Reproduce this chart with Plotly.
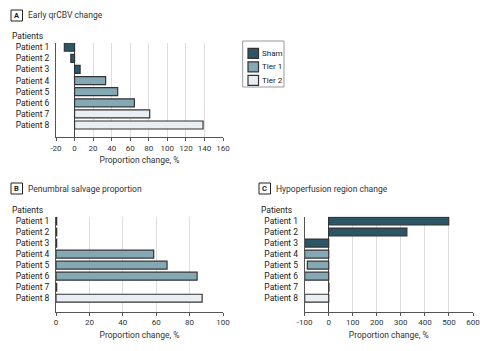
import plotly.graph_objects as go

patients = ["Patient 1", "Patient 2", "Patient 3", "Patient 4",
            "Patient 5", "Patient 6", "Patient 7", "Patient 8"]
groups = ["Sham", "Sham", "Sham", "Tier 1", "Tier 1", "Tier 1", "Tier 2", "Tier 2"]
qrcbv_change = [-11, -4, 6, 33.5, 46.5, 64.5, 81, 138.5]
penumbral_salvage = [0.4, 0.4, 0.4, 58.5, 66.5, 84.5, 0.4, 87.5]
hypoperfusion_change = [499, 325, -100, -100, -89, -100, 1, -100]

ticks_a = [-20, 0, 20, 40, 60, 80, 100, 120, 140, 160]
ticks_b = [0, 20, 40, 60, 80, 100]
ticks_c = [-100, 0, 100, 200, 300, 400, 500, 600]

group_names = ["Sham", "Tier 1", "Tier 2"]
colors = {"Sham": "#2c5665", "Tier 1": "#84a9b5", "Tier 2": "#e8eef1"}

FONT = "Roboto, Arial, sans-serif"
W, H = 492, 351

fig = go.Figure()

panels = [
    ("x", "y", qrcbv_change),
    ("x2", "y2", penumbral_salvage),
    ("x3", "y3", hypoperfusion_change),
]
for pi, (xa, ya, vals) in enumerate(panels):
    for g in group_names:
        ys = [p for p, gg in zip(patients, groups) if gg == g]
        xs = [v for v, gg in zip(vals, groups) if gg == g]
        fig.add_trace(go.Bar(
            x=xs, y=ys, orientation="h", name=g, xaxis=xa, yaxis=ya,
            marker=dict(color=colors[g], line=dict(color="#333333", width=1.2)),
            showlegend=False,
        ))


def tl(v):
    return str(v).replace("\u2212", "-")


axis_common = dict(
    showline=True, linecolor="#555555", linewidth=1,
    ticks="outside", ticklen=3, tickcolor="#555555", tickwidth=1,
    showgrid=True, gridcolor="#dddddd", gridwidth=1,
    tickfont=dict(family=FONT, size=8, color="#333333"),
    title_font=dict(family=FONT, size=8.5, color="#333333"),
    fixedrange=True, automargin=False, tickmode="array",
)
yaxis_common = dict(
    type="category", categoryorder="array", categoryarray=patients,
    tickmode="array", tickvals=patients, ticktext=patients,
    showline=True, linecolor="#555555", linewidth=1,
    ticks="", showgrid=False, zeroline=False, automargin=False,
    tickfont=dict(family=FONT, size=8.5, color="#222222"),
    ticklabelstandoff=4, fixedrange=True,
)

fig.update_layout(
    width=W, height=H,
    margin=dict(l=0, r=0, t=0, b=0, autoexpand=False),
    paper_bgcolor="white", plot_bgcolor="white",
    barmode="relative", bargap=0.28,
    font=dict(family=FONT, size=8.5, color="#333333"),
    showlegend=False,
    xaxis=dict(axis_common, domain=[56 / W, 223 / W], range=[-20, 160],
               tickvals=ticks_a, ticktext=[tl(v) for v in ticks_a],
               zeroline=True, zerolinecolor="#444444", zerolinewidth=1,
               title=dict(text="Proportion change, %", standoff=5), anchor="y"),
    yaxis=dict(yaxis_common, domain=[1 - 137 / H, 1 - 42.7 / H], range=[8.08, -0.41], anchor="x"),
    xaxis2=dict(axis_common, domain=[56 / W, 223 / W], range=[0, 100],
                tickvals=ticks_b, ticktext=[tl(v) for v in ticks_b], zeroline=False,
                title=dict(text="Proportion change, %", standoff=5), anchor="y2"),
    yaxis2=dict(yaxis_common, domain=[1 - 311.7 / H, 1 - 216.7 / H], range=[8.22, -0.39], anchor="x2"),
    xaxis3=dict(axis_common, domain=[304.7 / W, 473 / W], range=[-100, 600],
                tickvals=ticks_c, ticktext=[tl(v) for v in ticks_c],
                zeroline=True, zerolinecolor="#444444", zerolinewidth=1,
                title=dict(text="Proportion change, %", standoff=5), anchor="y3"),
    yaxis3=dict(yaxis_common, domain=[1 - 311.7 / H, 1 - 216.7 / H], range=[8.22, -0.39], anchor="x3"),
)

# Panel titles and "Patients" labels
panel_titles = [
    ("A", "Early qrCBV change", 11, 15.5, 10, 35.5),
    ("B", "Penumbral salvage proportion", 11, 188.5, 10, 210),
    ("C", "Hypoperfusion region change", 259, 188.5, 259, 210),
]
for letter, title, bx, by, px_, py_ in panel_titles:
    fig.add_shape(type="rect", xref="paper", yref="paper",
                  x0=bx / W, x1=(bx + 11.5) / W, y0=1 - (by - 5.5) / H, y1=1 - (by + 5.5) / H,
                  line=dict(color="#222222", width=1), fillcolor="white")
    fig.add_annotation(
        x=(bx + 5.75) / W, y=1 - by / H, xref="paper", yref="paper",
        xanchor="center", yanchor="middle", showarrow=False,
        text="<b>%s</b>" % letter, font=dict(family=FONT, size=7.5, color="#222222"),
    )
    fig.add_annotation(
        x=(bx + 15) / W, y=1 - by / H, xref="paper", yref="paper",
        xanchor="left", yanchor="middle", showarrow=False,
        text=title, font=dict(family=FONT, size=8.5, color="#333333"),
    )
    fig.add_annotation(
        x=px_ / W, y=1 - py_ / H, xref="paper", yref="paper",
        xanchor="left", yanchor="middle", showarrow=False,
        text="Patients", font=dict(family=FONT, size=8.5, color="#222222"),
    )

# Legend (drawn manually to match compact layout)
fig.add_shape(type="rect", xref="paper", yref="paper",
              x0=242.7 / W, x1=284 / W, y0=1 - 41 / H, y1=1 - 87 / H,
              line=dict(color="#999999", width=1), fillcolor="white")
for i, g in enumerate(group_names):
    cy = 53.3 + i * 13.5
    fig.add_shape(type="rect", xref="paper", yref="paper",
                  x0=248 / W, x1=258.5 / W, y0=1 - (cy - 5) / H, y1=1 - (cy + 5) / H,
                  line=dict(color="#333333", width=1.2), fillcolor=colors[g])
    fig.add_annotation(
        x=260 / W, y=1 - cy / H, xref="paper", yref="paper",
        xanchor="left", yanchor="middle", showarrow=False,
        text=g, font=dict(family=FONT, size=8, color="#222222"),
    )

fig.write_html("out.html")
